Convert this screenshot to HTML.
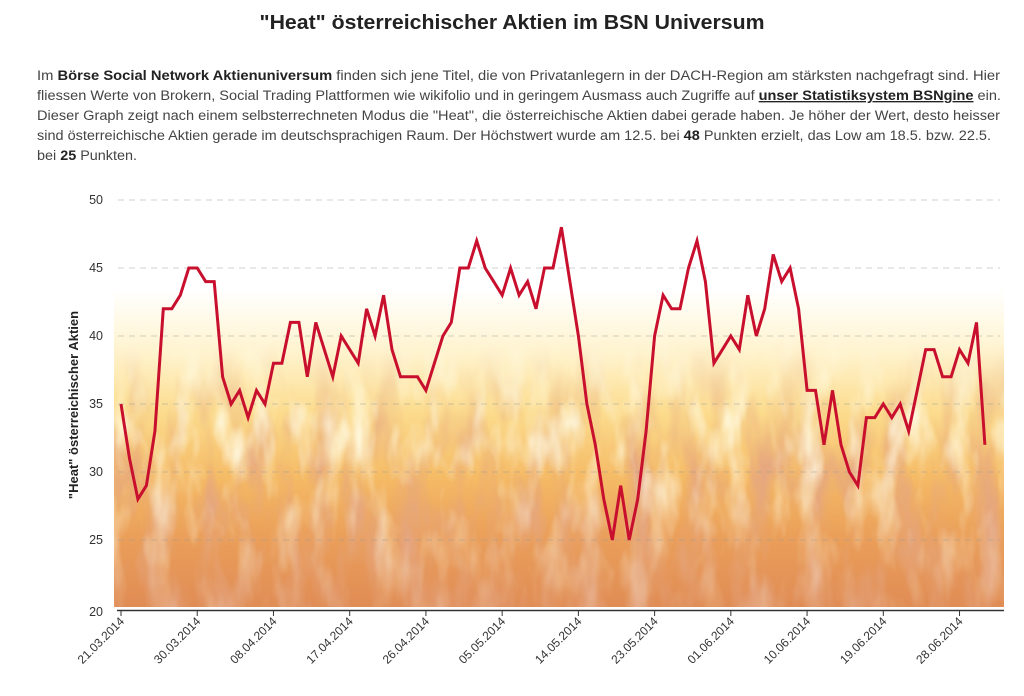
<!DOCTYPE html>
<html><head><meta charset="utf-8"><style>
html,body{margin:0;padding:0;background:#fff;width:1024px;height:696px;overflow:hidden}
svg{display:block}
</style></head><body>
<svg id="s" width="1024" height="696" viewBox="0 0 1024 696" xmlns="http://www.w3.org/2000/svg" font-family="Liberation Sans, sans-serif">
<defs>
<linearGradient id="fg" x1="0" y1="0" x2="0" y2="1">
<stop offset="0" stop-color="#ffffff"/>
<stop offset="0.22" stop-color="#ffffff"/>
<stop offset="0.38" stop-color="#fff3cc"/>
<stop offset="0.52" stop-color="#fcdc8e"/>
<stop offset="0.68" stop-color="#f5bb66"/>
<stop offset="0.82" stop-color="#eba05a"/>
<stop offset="1" stop-color="#e08c55"/>
</linearGradient>
<filter id="noise" x="0" y="0" width="100%" height="100%">
<feTurbulence type="fractalNoise" baseFrequency="0.035 0.012" numOctaves="3" seed="4"/>
<feColorMatrix type="matrix" values="0 0 0 0 0.78  0 0 0 0 0.38  0 0 0 0 0.22  0 0 0 2.4 -1.0"/>
</filter>
<filter id="noise2" x="0" y="0" width="100%" height="100%">
<feTurbulence type="fractalNoise" baseFrequency="0.04 0.015" numOctaves="3" seed="11"/>
<feColorMatrix type="matrix" values="0 0 0 0 1  0 0 0 0 0.97  0 0 0 0 0.8  0 0 0 2.4 -1.1"/>
</filter>
<linearGradient id="mask" x1="0" y1="0" x2="0" y2="1">
<stop offset="0" stop-color="#000"/><stop offset="0.35" stop-color="#000"/><stop offset="0.65" stop-color="#fff"/><stop offset="1" stop-color="#fff"/>
</linearGradient>
<linearGradient id="mask2" x1="0" y1="0" x2="0" y2="1">
<stop offset="0" stop-color="#000"/><stop offset="0.3" stop-color="#000"/><stop offset="0.55" stop-color="#fff"/><stop offset="0.8" stop-color="#888"/><stop offset="1" stop-color="#333"/>
</linearGradient>
<mask id="m"><rect x="114" y="200" width="890" height="407" fill="url(#mask)"/></mask>
<mask id="m2"><rect x="114" y="200" width="890" height="407" fill="url(#mask2)"/></mask>
</defs>
<text x="512" y="29" text-anchor="middle" font-size="20" font-weight="bold" fill="#222" textLength="505" lengthAdjust="spacingAndGlyphs">"Heat" österreichischer Aktien im BSN Universum</text>
<g font-size="13.5" fill="#444">
<text x="37" y="80" textLength="963" lengthAdjust="spacingAndGlyphs">Im <tspan font-weight="bold" fill="#222">Börse Social Network Aktienuniversum</tspan> finden sich jene Titel, die von Privatanlegern in der DACH-Region am stärksten nachgefragt sind. Hier</text>
<text x="37" y="100" textLength="964" lengthAdjust="spacingAndGlyphs">fliessen Werte von Brokern, Social Trading Plattformen wie wikifolio und in geringem Ausmass auch Zugriffe auf <tspan font-weight="bold" fill="#222" text-decoration="underline">unser Statistiksystem BSNgine</tspan> ein.</text>
<text x="37" y="120" textLength="963" lengthAdjust="spacingAndGlyphs">Dieser Graph zeigt nach einem selbsterrechneten Modus die "Heat", die österreichische Aktien dabei gerade haben. Je höher der Wert, desto heisser</text>
<text x="37" y="140" textLength="954" lengthAdjust="spacingAndGlyphs">sind österreichische Aktien gerade im deutschsprachigen Raum. Der Höchstwert wurde am 12.5. bei <tspan font-weight="bold" fill="#222">48</tspan> Punkten erzielt, das Low am 18.5. bzw. 22.5.</text>
<text x="37" y="160" textLength="100" lengthAdjust="spacingAndGlyphs">bei <tspan font-weight="bold" fill="#222">25</tspan> Punkten.</text>
</g>
<rect x="114" y="200" width="890" height="407" fill="url(#fg)"/>
<rect x="114" y="200" width="890" height="407" filter="url(#noise)" mask="url(#m)"/>
<rect x="114" y="200" width="890" height="407" filter="url(#noise2)" mask="url(#m2)"/>
<g id="grid" stroke="#999" stroke-opacity="0.45" stroke-dasharray="6,5" stroke-width="1"></g>
<g id="ylab" font-size="12.5" fill="#333" text-anchor="end"></g>
<text transform="translate(78,405) rotate(-90)" text-anchor="middle" font-size="13" font-weight="bold" fill="#222">"Heat" österreichischer Aktien</text>
<line x1="117" y1="610.5" x2="1004" y2="610.5" stroke="#333" stroke-width="1.5"/>
<g id="xlab" font-size="12" fill="#333"></g>
<polyline id="ln" fill="none" stroke="#c8102e" stroke-width="3" stroke-linejoin="miter"/>
</svg>
<script>
var ns="http://www.w3.org/2000/svg";
function Y(v){return 608-(v-20)*13.6;}
var g=document.getElementById('grid'),yl=document.getElementById('ylab');
for(var v=20;v<=50;v+=5){var y=Y(v);
 if(v>20){var l=document.createElementNS(ns,'line');l.setAttribute('x1',118);l.setAttribute('x2',1000);l.setAttribute('y1',y);l.setAttribute('y2',y);g.appendChild(l);}
 var t=document.createElementNS(ns,'text');t.setAttribute('x',103);t.setAttribute('y',(v==20?y+8:y+4));t.textContent=v;yl.appendChild(t);}
var d=[35,31,28,29,33,42,42,43,45,45,44,
44,37,35,36,34,36,35,38,38,41,41,37,41,39,37,40,39,38,42,40,43,39,37,37,37,36,38,40,41,45,
45,47,45,44,43,45,43,44,42,45,45,48,44,40,35,32,28,25,29,25,28,33,40,43,42,42,45,47,44,38,39,
40,39,43,40,42,46,44,45,42,36,36,32,36,32,30,29,34,34,35,34,35,33,36,39,39,37,37,39,38,41,
32];
var st=8.47,x0=121,pts=[];
for(var i=0;i<d.length;i++)pts.push((x0+i*st).toFixed(1)+','+Y(d[i]).toFixed(1));
document.getElementById('ln').setAttribute('points',pts.join(' '));
var labs=['21.03.2014','30.03.2014','08.04.2014','17.04.2014','26.04.2014','05.05.2014','14.05.2014','23.05.2014','01.06.2014','10.06.2014','19.06.2014','28.06.2014'];
var xl=document.getElementById('xlab');
for(var k=0;k<labs.length;k++){var x=x0+9*k*st;
 var l=document.createElementNS(ns,'line');l.setAttribute('x1',x);l.setAttribute('x2',x);l.setAttribute('y1',611);l.setAttribute('y2',616);l.setAttribute('stroke','#333');xl.appendChild(l);
 var t=document.createElementNS(ns,'text');t.setAttribute('text-anchor','end');t.setAttribute('transform','translate('+(x+4)+',622) rotate(-45)');t.textContent=labs[k];xl.appendChild(t);}
</script>
</body></html>
